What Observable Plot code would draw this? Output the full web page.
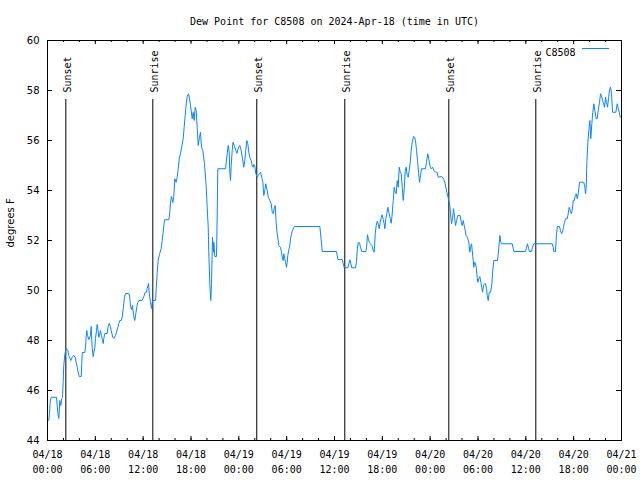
<!DOCTYPE html>
<html>
<head>
<meta charset="utf-8">
<script src="https://cdn.jsdelivr.net/npm/d3@7"></script>
<script src="https://cdn.jsdelivr.net/npm/@observablehq/plot@0.6"></script>
<style>
  html, body { margin: 0; padding: 0; background: #fff; }
  #chart svg { display: block; }
</style>
</head>
<body>
<div id="chart"></div>
<script>
// ---- data (hours since 2024-04-18 00:00 UTC, dew point °F) ----
const titleText = "Dew Point for C8508 on 2024-Apr-18 (time in UTC)";
const seriesName = "C8508";
const yLabel = "degrees F";
const yTicks = [44, 46, 48, 50, 52, 54, 56, 58, 60];
const eventHours = [2.30, 13.21, 26.25, 37.29, 50.34, 61.25];
const eventLabels = ["Sunset", "Sunrise", "Sunset", "Sunrise", "Sunset", "Sunrise"];
const readings = [
[0.16,44.80],[0.25,45.07],[0.34,45.53],[0.46,45.73],[1.13,45.73],[1.29,45.13],[1.42,44.88],[1.54,45.60],[1.67,45.40],[1.79,45.68],
[1.88,45.72],[1.97,46.36],[2.04,47.00],[2.17,47.44],[2.35,47.68],[2.55,47.60],[2.67,47.40],[2.92,47.20],[3.10,47.33],[3.30,47.40],
[3.47,47.33],[3.60,47.13],[3.73,46.93],[3.85,46.73],[3.98,46.56],[4.23,46.56],[4.30,47.08],[4.35,47.52],[4.68,47.52],[4.77,47.73],
[4.85,48.16],[4.93,48.40],[5.02,48.20],[5.18,48.04],[5.39,48.20],[5.48,48.56],[5.61,47.68],[5.73,47.36],[5.81,47.53],[5.93,47.69],
[6.02,48.08],[6.15,48.40],[6.23,48.64],[6.31,48.48],[6.44,48.13],[6.56,48.27],[6.65,48.40],[6.77,48.20],[6.90,48.00],[6.99,47.88],
[7.06,48.08],[7.19,48.28],[7.49,48.28],[7.61,48.56],[7.74,48.68],[7.90,48.56],[7.99,48.40],[8.19,48.13],[8.32,48.08],[8.53,48.20],
[8.66,48.33],[8.82,48.52],[8.94,48.68],[9.07,48.80],[9.24,48.80],[9.37,48.93],[9.50,49.28],[9.66,49.73],[9.78,49.88],[10.20,49.88],
[10.32,49.72],[10.41,49.36],[10.54,49.24],[10.66,49.40],[10.79,49.00],[10.95,48.80],[11.08,49.09],[11.20,49.33],[11.33,49.53],[11.45,49.60],
[11.88,49.60],[12.08,49.76],[12.26,49.93],[12.42,49.93],[12.51,50.08],[12.67,50.28],[12.75,49.93],[12.92,49.53],[13.05,49.28],[13.13,49.53],
[13.26,49.60],[13.55,49.60],[13.64,50.08],[13.76,50.72],[13.89,51.24],[14.05,51.44],[14.26,51.68],[14.39,52.00],[14.51,52.33],[14.68,52.83],
[15.22,52.83],[15.34,53.13],[15.43,53.53],[15.55,53.76],[15.72,53.52],[15.84,53.76],[15.97,54.47],[16.14,54.33],[16.27,54.53],[16.40,54.87],
[16.52,55.27],[16.68,55.47],[17.02,56.07],[17.15,56.56],[17.27,57.00],[17.40,57.47],[17.52,57.76],[17.69,57.87],[17.81,57.67],[17.94,57.40],
[18.15,56.87],[18.28,57.13],[18.40,56.80],[18.53,57.33],[18.65,57.20],[18.78,56.53],[18.90,55.80],[19.07,56.13],[19.19,56.33],[19.32,55.73],
[19.48,55.60],[19.69,55.07],[19.91,54.13],[20.03,53.33],[20.16,52.53],[20.23,51.53],[20.36,50.27],[20.48,49.60],[20.57,50.27],[20.70,52.13],
[20.82,51.53],[20.86,51.93],[20.99,51.36],[21.20,51.36],[21.29,53.07],[21.36,54.87],[22.33,54.87],[22.42,55.13],[22.54,55.47],[22.67,55.80],
[22.79,55.53],[22.87,54.73],[22.96,54.40],[23.04,55.00],[23.17,55.60],[23.27,55.93],[23.46,55.76],[23.62,55.60],[23.77,55.49],[23.96,55.73],
[24.12,55.80],[24.30,55.60],[24.46,55.27],[24.62,54.93],[24.75,55.20],[24.87,55.60],[25.00,56.00],[25.13,55.87],[25.25,55.53],[25.38,55.33],
[25.55,55.20],[25.68,55.00],[25.80,54.93],[25.88,55.04],[26.01,54.96],[26.13,54.67],[26.30,54.53],[26.43,54.60],[26.56,54.67],[26.72,54.73],
[26.88,54.53],[27.01,54.33],[27.13,53.80],[27.26,54.00],[27.38,54.27],[27.56,54.00],[27.69,53.73],[27.89,53.60],[28.06,53.47],[28.19,53.13],
[28.31,53.07],[28.44,53.27],[28.56,53.40],[28.69,52.67],[28.81,52.27],[28.94,52.00],[29.01,51.80],[29.22,51.73],[29.35,51.53],[29.48,51.27],
[29.57,51.20],[29.64,51.47],[29.77,51.27],[29.86,51.13],[29.98,50.93],[30.07,51.13],[30.14,51.40],[30.27,51.63],[30.40,51.80],[30.48,52.07],
[30.61,52.27],[30.73,52.40],[30.90,52.53],[31.02,52.56],[34.16,52.56],[34.25,52.27],[34.37,51.87],[34.46,51.56],[36.25,51.56],[36.34,51.40],
[36.42,51.24],[36.97,51.24],[37.09,51.07],[37.22,50.91],[37.67,50.91],[37.80,51.07],[37.92,51.23],[38.05,51.07],[38.17,50.91],[38.64,50.91],
[38.76,51.16],[38.85,51.63],[38.97,51.91],[39.14,51.91],[39.26,51.73],[39.43,51.56],[39.93,51.56],[40.02,51.73],[40.14,52.23],[40.27,52.03],
[40.39,51.91],[40.52,51.87],[40.68,51.80],[40.86,51.60],[40.98,51.53],[41.11,52.27],[41.23,52.60],[41.36,52.77],[41.48,52.67],[41.61,52.47],
[41.73,52.73],[41.86,52.91],[41.98,53.03],[42.11,52.84],[42.23,52.67],[42.31,52.47],[42.44,52.87],[42.56,53.07],[42.69,53.33],[42.81,53.13],
[42.99,52.87],[43.11,52.69],[43.24,53.07],[43.37,53.60],[43.49,54.13],[43.62,53.93],[43.74,53.87],[43.87,54.40],[43.99,54.13],[44.12,54.93],
[44.25,54.73],[44.37,54.67],[44.50,54.13],[44.62,53.60],[44.75,54.07],[44.87,54.80],[45.00,54.93],[45.12,54.60],[45.25,54.53],[45.37,54.80],
[45.50,55.13],[45.62,55.60],[45.75,55.93],[45.91,56.16],[46.04,56.13],[46.16,56.00],[46.29,55.60],[46.41,55.20],[46.54,54.73],[46.66,54.33],
[46.79,54.60],[46.91,54.87],[47.42,54.87],[47.54,55.13],[47.70,55.47],[47.83,55.27],[47.96,55.00],[48.13,54.87],[48.30,54.93],[48.46,54.80],
[48.67,54.73],[48.86,54.73],[49.01,54.53],[49.42,54.56],[49.59,54.51],[49.71,54.44],[49.84,54.33],[49.96,54.13],[50.09,53.93],[50.22,53.76],
[50.34,53.60],[50.47,53.40],[50.55,53.07],[50.68,52.67],[50.80,52.87],[50.93,53.27],[51.06,52.93],[51.18,52.60],[51.31,52.80],[51.47,53.00],
[51.75,53.00],[51.90,52.73],[52.02,52.60],[52.15,52.80],[52.27,52.60],[52.40,52.40],[52.50,52.20],[52.60,52.16],[52.73,52.07],[52.85,51.93],
[52.98,51.53],[53.07,51.73],[53.19,51.87],[53.28,51.60],[53.40,51.20],[53.48,50.93],[53.57,51.13],[53.69,51.07],[53.78,50.93],[53.90,50.53],
[53.98,50.33],[54.11,50.48],[54.23,50.56],[54.36,50.33],[54.48,50.13],[54.57,49.93],[54.69,50.20],[54.82,50.27],[54.94,50.27],[55.07,50.07],
[55.16,49.80],[55.28,49.60],[55.41,49.93],[55.58,49.93],[55.74,50.27],[55.87,50.87],[55.99,51.20],[56.45,51.20],[56.54,51.47],[56.67,51.93],
[56.74,52.20],[56.86,51.93],[56.99,51.87],[58.29,51.87],[58.42,51.67],[58.50,51.56],[59.96,51.56],[60.09,51.73],[60.21,51.87],[60.34,51.69],
[60.46,51.56],[60.71,51.56],[60.84,51.73],[61.00,51.87],[63.31,51.87],[63.44,51.73],[63.51,51.56],[63.72,51.56],[63.85,52.27],[63.97,52.56],
[64.22,52.56],[64.35,52.40],[64.48,52.27],[64.60,52.33],[64.73,52.53],[64.85,52.73],[64.98,52.87],[65.19,52.87],[65.32,53.07],[65.44,53.33],
[65.57,53.20],[65.70,53.07],[65.82,53.20],[65.95,53.60],[66.07,53.60],[66.20,53.80],[66.32,53.87],[66.45,53.67],[66.57,53.87],[66.74,54.33],
[67.27,54.33],[67.40,54.13],[67.49,53.87],[67.57,54.08],[67.65,55.07],[67.78,55.93],[67.90,56.40],[68.03,56.80],[68.15,56.07],[68.28,56.67],
[68.40,57.13],[68.53,57.47],[68.65,57.20],[68.83,56.87],[68.95,56.87],[69.08,57.20],[69.24,57.53],[69.37,57.87],[69.49,57.80],[69.62,57.60],
[69.75,57.47],[69.87,57.33],[70.00,57.73],[70.12,57.53],[70.25,57.33],[70.37,57.67],[70.50,58.03],[70.63,58.13],[70.75,57.87],[70.88,57.13],
[71.29,57.13],[71.47,57.47],[71.59,57.28],[71.72,57.13],[71.84,56.93]
];

// ---- build ----
const t0 = Date.UTC(2024, 3, 18, 0, 0);
const toDate = h => new Date(t0 + h * 3600e3);
const data = readings.map(([h, v]) => ({time: toDate(h), value: v}));
const events = eventHours.map((h, i) => ({time: toDate(h), label: eventLabels[i]}));
const xStart = toDate(0), xEnd = toDate(72);
const majorTicks = d3.utcHour.every(6).range(xStart, toDate(72.01));
const minorTicks = d3.utcHour.every(2).range(xStart, toDate(72.01));
const fmt = d3.utcFormat("%m/%d\n%H:%M");

const W = 640, H = 480, mL = 47, mR = 19, mT = 40, mB = 40;
const fw = W - mL - mR, fh = H - mT - mB;
const lineColor = "#0a84ff";

const chart = Plot.plot({
  width: W, height: H,
  marginLeft: mL, marginRight: mR, marginTop: mT, marginBottom: mB,
  style: {fontFamily: "'DejaVu Sans Mono', monospace", fontSize: "10px", background: "#fff", color: "#000"},
  x: {type: "utc", domain: [xStart, xEnd]},
  y: {domain: [44, 60]},
  marks: [
    // x ticks (bottom & top, inward)
    Plot.tickX(minorTicks, {x: d => d, stroke: "#000", insetTop: fh - 2}),
    Plot.tickX(majorTicks, {x: d => d, stroke: "#000", insetTop: fh - 4}),
    Plot.tickX(minorTicks, {x: d => d, stroke: "#000", insetBottom: fh - 2}),
    Plot.tickX(majorTicks, {x: d => d, stroke: "#000", insetBottom: fh - 4}),
    // y ticks (left & right, inward)
    Plot.tickY(yTicks, {y: d => d, stroke: "#000", insetRight: fw - 5}),
    Plot.tickY(yTicks, {y: d => d, stroke: "#000", insetLeft: fw - 5}),
    // sunrise / sunset markers
    Plot.ruleX(events, {x: "time", stroke: "#000", strokeWidth: 1, insetTop: 59}),
    Plot.text(events, {x: "time", text: "label", frameAnchor: "top", rotate: -90, textAnchor: "start", dy: 52, dx: -2, fill: "#000", fontSize: 10}),
    // data line
    Plot.line(data, {x: "time", y: "value", stroke: lineColor, strokeWidth: 1}),
    // axes labels
    Plot.axisX({ticks: majorTicks, tickFormat: fmt, tickSize: 0, tickPadding: 7, lineHeight: 1.5, fontSize: 10}),
    Plot.axisY({ticks: yTicks, tickSize: 0, tickPadding: 8, label: null, fontSize: 10, fontFamily: "'DejaVu Sans', sans-serif"}),
    Plot.text([yLabel], {frameAnchor: "left", dx: -37, dy: 7, rotate: -90, fontSize: 10, fontFamily: "'DejaVu Sans', sans-serif", fill: "#000"}),
    Plot.text([titleText], {frameAnchor: "top", dy: -23, fontSize: 10, fill: "#000"}),
    // legend label
    Plot.text([seriesName], {frameAnchor: "top-right", dx: -46, dy: 8, textAnchor: "end", fontSize: 10, fill: "#000"}),
    Plot.frame({stroke: "#000", strokeWidth: 1})
  ]
});

// legend swatch (layout, relative to the frame)
d3.select(chart).append("line")
  .attr("x1", W - mR - 39).attr("x2", W - mR - 12)
  .attr("y1", mT + 8.5).attr("y2", mT + 8.5)
  .attr("stroke", lineColor).attr("stroke-width", 1);

document.getElementById("chart").appendChild(chart);
</script>
</body>
</html>
